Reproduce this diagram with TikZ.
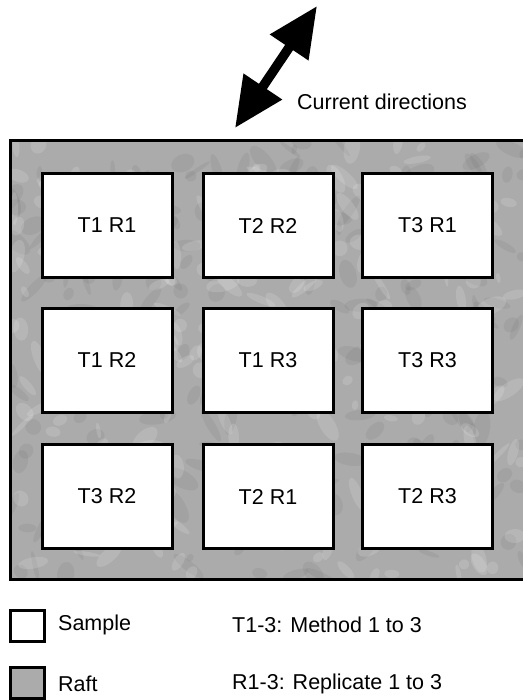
\documentclass[tikz,border=0pt]{standalone}
\usepackage{fontspec}
\setmainfont{Liberation Sans}
\usetikzlibrary{arrows.meta}
\tikzset{
  sample/.style={draw=black, line width=3pt, fill=white, minimum width=130pt, minimum height=104pt, inner sep=0pt, font=\fontsize{21.5}{26}\selectfont},
  raftfill/.style={fill=black!33},
  lbl/.style={anchor=west, inner sep=0pt, font=\fontsize{21.5}{26}\selectfont},
  legbox/.style={draw=black, line width=2.6pt, minimum width=34pt, minimum height=31pt, inner sep=0pt},
  bigarrow/.style={line width=9.5pt, {Triangle[length=50pt,width=44pt]}-{Triangle[length=50pt,width=44pt]}}
}
\begin{document}
\begin{tikzpicture}[x=1pt,y=-1pt]
\useasboundingbox (0,0) rectangle (522,700);
% raft
\fill[raftfill] (10,141) rectangle (526,579);
\begin{scope}
\clip (10,141) rectangle (526,579);
\pgfmathsetseed{7}
\foreach \i in {1,...,260}{
  \pgfmathsetmacro{\px}{10+rnd*516}
  \pgfmathsetmacro{\py}{141+rnd*438}
  \pgfmathsetmacro{\rx}{4+rnd*16}
  \pgfmathsetmacro{\ry}{2+rnd*7}
  \pgfmathsetmacro{\ang}{rnd*180}
  \fill[black!60, opacity=0.12, rotate around={\ang:(\px,\py)}] (\px,\py) ellipse ({\rx} and {\ry});
}
\foreach \i in {1,...,220}{
  \pgfmathsetmacro{\px}{10+rnd*516}
  \pgfmathsetmacro{\py}{141+rnd*438}
  \pgfmathsetmacro{\rx}{4+rnd*14}
  \pgfmathsetmacro{\ry}{2+rnd*6}
  \pgfmathsetmacro{\ang}{rnd*180}
  \fill[white, opacity=0.14, rotate around={\ang:(\px,\py)}] (\px,\py) ellipse ({\rx} and {\ry});
}
\end{scope}
\draw[line width=3pt] (526,141) -- (10,141) -- (10,579) -- (526,579);
% samples
\node[sample] (s11) at (107,225.5) {T1 R1};
\node[sample] (s12) at (268,225.5) {T2 R2};
\node[sample] (s13) at (427.5,225.5) {T3 R1};
\node[sample] (s21) at (107,360) {T1 R2};
\node[sample] (s22) at (268,360) {T1 R3};
\node[sample] (s23) at (427.5,360) {T3 R3};
\node[sample] (s31) at (107,496.5) {T3 R2};
\node[sample] (s32) at (268,496.5) {T2 R1};
\node[sample] (s33) at (427.5,496.5) {T2 R3};
% arrow
\coordinate (arrA) at (235,128);
\coordinate (arrB) at (317,6);
\draw[bigarrow] (arrA) -- (arrB);
\node[font=\fontsize{21.5}{26}\selectfont, inner sep=0pt] (cur) at (382,102) {Current directions};
% legend
\node[legbox, fill=white] (legS) at (27.5,626) {};
\node[legbox, fill=black!33] (legR) at (27.5,683) {};
\node[lbl] (tS) at (58,625) {Sample};
\node[lbl] (tR) at (58,684) {Raft};
\node[lbl] (tM) at (232,625) {T1-3: Method 1 to 3};
\node[lbl] (tRe) at (232,684) {R1-3: Replicate 1 to 3};
\end{tikzpicture}
\end{document}
